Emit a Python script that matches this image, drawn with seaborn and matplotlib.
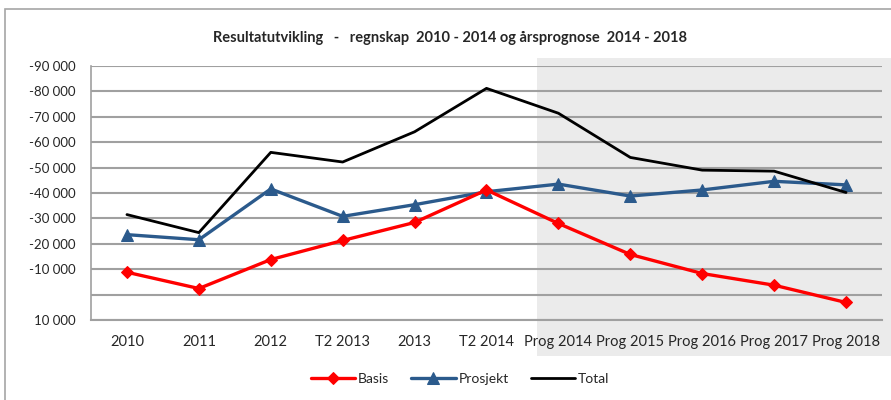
import pandas as pd
import seaborn as sns
import matplotlib.pyplot as plt
from matplotlib.patches import Rectangle
from matplotlib.ticker import FuncFormatter

# Kategorier og verdier lest av diagrammet
categories = ["2010", "2011", "2012", "T2 2013", "2013", "T2 2014",
              "Prog 2014", "Prog 2015", "Prog 2016", "Prog 2017", "Prog 2018"]
basis = [-8800, -2400, -13800, -21300, -28400, -41200,
         -28000, -15800, -8300, -3700, 3100]
prosjekt = [-23600, -21600, -41600, -30800, -35400, -40500,
            -43500, -38800, -41200, -44600, -43200]
total = [-31500, -24400, -56000, -52200, -64100, -81200,
         -71400, -54000, -49000, -48600, -40200]

sns.set_style("white")
plt.rcParams['font.family'] = ['Lato', 'DejaVu Sans']

df = pd.DataFrame({"Kategori": categories, "Basis": basis,
                   "Prosjekt": prosjekt, "Total": total})

fig = plt.figure(figsize=(8.91, 4.0), dpi=100)

# grå bakgrunn for prognoseperioden og ytre ramme
fig.patches.append(Rectangle((537 / 891, 1 - 356 / 400), (891 - 537) / 891, (356 - 58) / 400,
                             transform=fig.transFigure, facecolor="#ebebeb",
                             edgecolor="none", zorder=-2))
fig.patches.append(Rectangle((5 / 891, -0.1), 1.0, 1 - 9 / 400 + 0.1,
                             transform=fig.transFigure, facecolor="none",
                             edgecolor="#a6a6a6", lw=1.2, zorder=-1))

ax = fig.add_axes([91 / 891, 1 - 320 / 400, (882 - 91) / 891, (320 - 66) / 400])
ax.patch.set_alpha(0)

sns.lineplot(data=df, x="Kategori", y="Basis", ax=ax, color="#ff0000", lw=2.4,
             marker="D", markersize=6, markeredgecolor="#ff0000", sort=False, label="Basis", zorder=4)
sns.lineplot(data=df, x="Kategori", y="Prosjekt", ax=ax, color="#2b5a8c", lw=2.4,
             marker="^", markersize=8, markeredgecolor="#2b5a8c", sort=False, label="Prosjekt", zorder=3)
sns.lineplot(data=df, x="Kategori", y="Total", ax=ax, color="black", lw=2.0,
             sort=False, label="Total", zorder=5)

ax.set_xlim(-0.5, len(categories) - 0.5)
ax.set_ylim(10000, -90000)
ax.set_yticks(range(-90000, 10001, 10000))
ax.yaxis.set_major_formatter(FuncFormatter(
    lambda v, p: "" if v == 0 else f"{int(v):,}".replace(",", " ")))
ax.grid(axis="y", color="#a0a0a0", lw=1.5)
ax.set_axisbelow(True)
for s in ["top", "right"]:
    ax.spines[s].set_visible(False)
ax.spines["left"].set_color("#a0a0a0")
ax.spines["bottom"].set_color("#a0a0a0")
ax.spines["left"].set_linewidth(1.2)
ax.spines["bottom"].set_linewidth(1.5)
ax.tick_params(axis="y", length=5, color="#a0a0a0", labelsize=9.5, pad=6)
ax.tick_params(axis="x", length=0, labelsize=10.5, pad=11)
ax.set_xlabel("")
ax.set_ylabel("")

fig.text(0.505, 1 - 38 / 400, "Resultatutvikling   -   regnskap  2010 - 2014 og årsprognose  2014 - 2018",
         ha="center", va="center", fontsize=10.5, fontweight="bold")

ax.legend(loc="center", bbox_to_anchor=(460 / 891, 1 - 379 / 400), bbox_transform=fig.transFigure,
          ncol=3, frameon=False, fontsize=10, handlelength=3.2, columnspacing=1.6, handletextpad=0.2)

fig.savefig("out.png", dpi=100)
